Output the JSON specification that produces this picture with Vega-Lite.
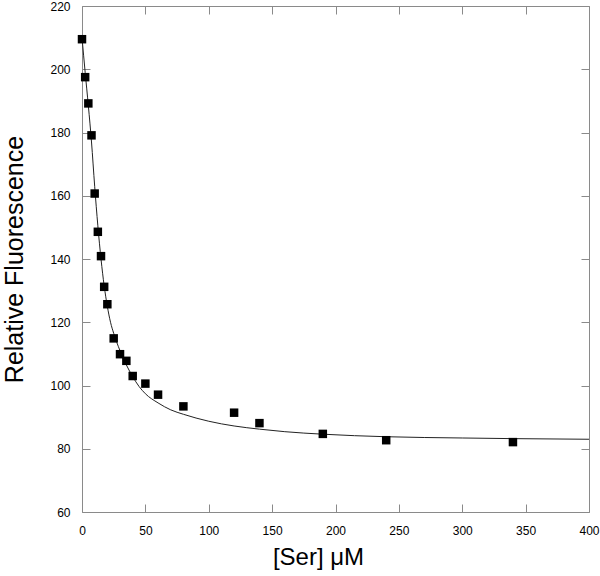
{
  "$schema": "https://vega.github.io/schema/vega-lite/v6.json",
  "width": 507,
  "height": 506,
  "autosize": "none",
  "padding": {"left": 82, "top": 6, "right": 11, "bottom": 64},
  "background": "white",
  "config": {
    "view": {"stroke": null},
    "axis": {
      "grid": false,
      "domainColor": "#8a8a8a",
      "tickColor": "#8a8a8a",
      "domainWidth": 1,
      "tickWidth": 1,
      "tickSize": -8,
      "labelFont": "Liberation Sans",
      "labelFontSize": 12,
      "labelColor": "black",
      "titleFont": "Liberation Sans",
      "titleFontWeight": "normal",
      "titleColor": "black"
    }
  },
  "datasets": {
    "points": [
      {"ser": 0, "fl": 209.5},
      {"ser": 2.5, "fl": 197.5},
      {"ser": 5, "fl": 189.2},
      {"ser": 7.5, "fl": 179.1},
      {"ser": 10, "fl": 160.7},
      {"ser": 12.5, "fl": 148.6},
      {"ser": 15, "fl": 140.9},
      {"ser": 17.5, "fl": 131.2},
      {"ser": 20, "fl": 125.7},
      {"ser": 25, "fl": 114.9},
      {"ser": 30, "fl": 109.9},
      {"ser": 35, "fl": 107.8},
      {"ser": 40, "fl": 103.0},
      {"ser": 50, "fl": 100.6},
      {"ser": 60, "fl": 97.1},
      {"ser": 80, "fl": 93.4},
      {"ser": 120, "fl": 91.4},
      {"ser": 140, "fl": 88.1},
      {"ser": 190, "fl": 84.7},
      {"ser": 240, "fl": 82.7},
      {"ser": 340, "fl": 82.1}
    ],
    "fit": [
      {"ser": 0, "fl": 210},
      {"ser": 2.5, "fl": 199},
      {"ser": 5, "fl": 188.5},
      {"ser": 7.5, "fl": 177},
      {"ser": 10, "fl": 163},
      {"ser": 12.5, "fl": 150.5},
      {"ser": 15, "fl": 140},
      {"ser": 17.5, "fl": 131.5},
      {"ser": 20, "fl": 125},
      {"ser": 22.5, "fl": 120},
      {"ser": 25, "fl": 116.5},
      {"ser": 30, "fl": 111},
      {"ser": 35, "fl": 106.5},
      {"ser": 40, "fl": 102.8},
      {"ser": 45, "fl": 99.7},
      {"ser": 50, "fl": 97.4},
      {"ser": 60, "fl": 94.5},
      {"ser": 70, "fl": 92.3},
      {"ser": 80, "fl": 90.9},
      {"ser": 100, "fl": 88.7},
      {"ser": 120, "fl": 87.2},
      {"ser": 140, "fl": 86.2},
      {"ser": 160, "fl": 85.4},
      {"ser": 190, "fl": 84.6},
      {"ser": 240, "fl": 83.8},
      {"ser": 300, "fl": 83.4},
      {"ser": 340, "fl": 83.2},
      {"ser": 400, "fl": 83.0}
    ]
  },
  "layer": [
    {
      "data": {"name": "fit"},
      "mark": {"type": "line", "color": "#222222", "strokeWidth": 1, "interpolate": "monotone", "clip": true},
      "encoding": {
        "x": {"field": "ser", "type": "quantitative",
              "scale": {"domain": [0, 400], "nice": false, "zero": false},
              "axis": {"orient": "bottom", "values": [0, 50, 100, 150, 200, 250, 300, 350, 400], "labelPadding": 21, "title": "[Ser] μM", "titleFontSize": 24, "titlePadding": 9, "titleX": 236, "labelFlush": false}},
        "y": {"field": "fl", "type": "quantitative",
              "scale": {"domain": [60, 220], "nice": false, "zero": false},
              "axis": {"orient": "left", "values": [60, 80, 100, 120, 140, 160, 180, 200, 220], "labelPadding": 20, "title": "Relative Fluorescence", "titleFontSize": 25, "titlePadding": 22, "labelFlush": false}}
      }
    },
    {
      "data": {"name": "points"},
      "mark": {"type": "point", "shape": "square", "filled": true, "color": "black", "opacity": 1, "size": 72, "clip": false},
      "encoding": {
        "x": {"field": "ser", "type": "quantitative",
              "axis": {"orient": "top", "values": [0, 50, 100, 150, 200, 250, 300, 350, 400], "labels": false, "title": null}},
        "y": {"field": "fl", "type": "quantitative",
              "axis": {"orient": "right", "values": [60, 80, 100, 120, 140, 160, 180, 200, 220], "labels": false, "title": null}}
      }
    }
  ],
  "resolve": {"axis": {"x": "independent", "y": "independent"}}
}
